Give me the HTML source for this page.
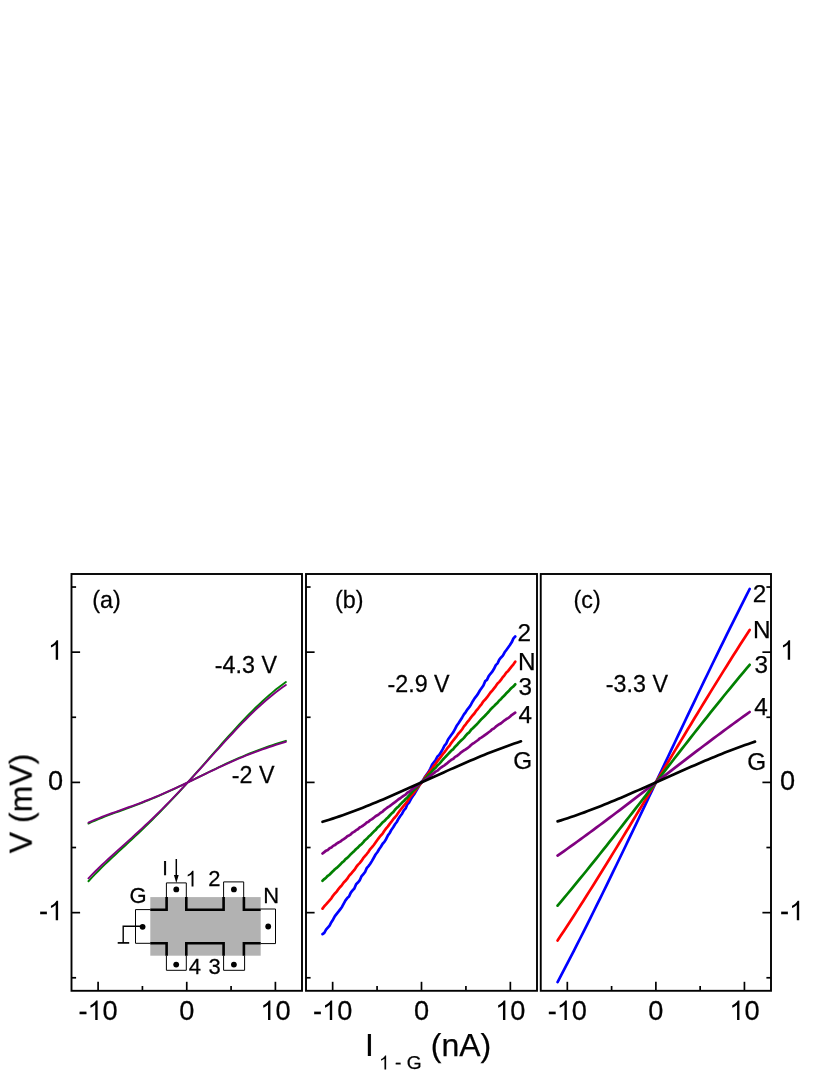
<!DOCTYPE html>
<html><head><meta charset="utf-8"><title>IV curves</title>
<style>html,body{margin:0;padding:0;background:#fff;}svg{display:block;}text{font-family:"Liberation Sans",sans-serif;fill:#000;}</style></head><body>
<svg width="830" height="1075" viewBox="0 0 830 1075">
<rect x="0" y="0" width="830" height="1075" fill="#ffffff"/>
<g style="opacity:0.999">
<polyline points="88.46,881.24 91.80,877.64 95.15,874.15 98.50,870.75 101.84,867.43 105.19,864.19 108.54,860.99 111.88,857.84 115.23,854.71 118.57,851.61 121.92,848.52 125.27,845.43 128.61,842.33 131.96,839.22 135.31,836.10 138.65,832.95 142.00,829.77 145.34,826.55 148.69,823.31 152.04,820.02 155.38,816.69 158.73,813.32 162.08,809.91 165.42,806.46 168.77,802.96 172.12,799.43 175.46,795.85 178.81,792.23 182.15,788.58 185.50,784.89 188.85,781.18 192.19,777.44 195.54,773.67 198.89,769.88 202.23,766.08 205.58,762.27 208.92,758.45 212.27,754.64 215.62,750.83 218.96,747.02 222.31,743.24 225.66,739.48 229.00,735.74 232.35,732.04 235.70,728.37 239.04,724.75 242.39,721.19 245.73,717.68 249.08,714.23 252.43,710.85 255.77,707.55 259.12,704.33 262.47,701.19 265.81,698.15 269.16,695.20 272.50,692.35 275.85,689.60 279.20,686.97 282.54,684.45 285.89,682.05" fill="none" stroke="#008000" stroke-width="1.90" stroke-linecap="round" stroke-linejoin="round"/>
<polyline points="88.46,823.55 91.80,822.00 95.15,820.53 98.50,819.12 101.84,817.78 105.19,816.47 108.54,815.20 111.88,813.95 115.23,812.72 118.57,811.50 121.92,810.28 125.27,809.06 128.61,807.83 131.96,806.59 135.31,805.33 138.65,804.05 142.00,802.75 145.34,801.43 148.69,800.08 152.04,798.70 155.38,797.29 158.73,795.85 162.08,794.39 165.42,792.90 168.77,791.39 172.12,789.85 175.46,788.29 178.81,786.71 182.15,785.11 185.50,783.49 188.85,781.87 192.19,780.23 195.54,778.58 198.89,776.93 202.23,775.28 205.58,773.63 208.92,771.99 212.27,770.36 215.62,768.74 218.96,767.13 222.31,765.54 225.66,763.97 229.00,762.42 232.35,760.90 235.70,759.41 239.04,757.94 242.39,756.51 245.73,755.11 249.08,753.75 252.43,752.42 255.77,751.12 259.12,749.86 262.47,748.63 265.81,747.43 269.16,746.27 272.50,745.13 275.85,744.02 279.20,742.94 282.54,741.87 285.89,740.82" fill="none" stroke="#008000" stroke-width="1.90" stroke-linecap="round" stroke-linejoin="round"/>
<polyline points="88.46,878.42 91.80,874.91 95.15,871.52 98.50,868.22 101.84,865.00 105.19,861.85 108.54,858.74 111.88,855.68 115.23,852.65 118.57,849.63 121.92,846.63 125.27,843.63 128.61,840.62 131.96,837.60 135.31,834.56 138.65,831.50 142.00,828.41 145.34,825.29 148.69,822.14 152.04,818.94 155.38,815.71 158.73,812.44 162.08,809.13 165.42,805.77 168.77,802.38 172.12,798.94 175.46,795.46 178.81,791.95 182.15,788.40 185.50,784.82 188.85,781.21 192.19,777.58 195.54,773.92 198.89,770.24 202.23,766.55 205.58,762.85 208.92,759.14 212.27,755.43 215.62,751.73 218.96,748.04 222.31,744.36 225.66,740.70 229.00,737.07 232.35,733.48 235.70,729.92 239.04,726.40 242.39,722.94 245.73,719.53 249.08,716.18 252.43,712.90 255.77,709.69 259.12,706.56 262.47,703.51 265.81,700.56 269.16,697.69 272.50,694.92 275.85,692.26 279.20,689.70 282.54,687.25 285.89,684.92" fill="none" stroke="#800080" stroke-width="1.90" stroke-linecap="round" stroke-linejoin="round"/>
<polyline points="88.46,822.62 91.80,821.10 95.15,819.67 98.50,818.29 101.84,816.97 105.19,815.70 108.54,814.45 111.88,813.24 115.23,812.03 118.57,810.84 121.92,809.65 125.27,808.46 128.61,807.26 131.96,806.04 135.31,804.81 138.65,803.56 142.00,802.29 145.34,801.00 148.69,799.67 152.04,798.33 155.38,796.95 158.73,795.55 162.08,794.12 165.42,792.66 168.77,791.18 172.12,789.68 175.46,788.16 178.81,786.61 182.15,785.05 185.50,783.47 188.85,781.88 192.19,780.28 195.54,778.67 198.89,777.06 202.23,775.44 205.58,773.83 208.92,772.23 212.27,770.63 215.62,769.04 218.96,767.47 222.31,765.92 225.66,764.39 229.00,762.87 232.35,761.39 235.70,759.93 239.04,758.50 242.39,757.10 245.73,755.73 249.08,754.40 252.43,753.09 255.77,751.83 259.12,750.59 262.47,749.39 265.81,748.23 269.16,747.09 272.50,745.98 275.85,744.89 279.20,743.83 282.54,742.79 285.89,741.76" fill="none" stroke="#800080" stroke-width="1.90" stroke-linecap="round" stroke-linejoin="round"/>
<polyline points="322.53,934.16 324.29,932.88 326.06,929.70 327.83,927.65 329.60,925.53 331.37,922.15 333.13,919.49 334.90,916.12 336.67,913.86 338.44,911.66 340.20,909.35 341.97,906.94 343.74,903.54 345.51,900.32 347.28,898.06 349.04,896.52 350.81,892.59 352.58,890.34 354.35,888.52 356.12,884.20 357.88,882.53 359.65,880.46 361.42,876.45 363.19,874.31 364.96,872.23 366.72,868.11 368.49,866.08 370.26,863.75 372.03,860.86 373.80,857.75 375.56,854.52 377.33,852.28 379.10,849.30 380.87,846.73 382.64,843.76 384.40,841.83 386.17,838.93 387.94,835.33 389.71,833.01 391.48,829.69 393.24,827.21 395.01,824.24 396.78,821.99 398.55,818.67 400.32,816.03 402.08,813.70 403.85,810.34 405.62,808.42 407.39,804.30 409.16,802.50 410.92,799.11 412.69,796.30 414.46,793.86 416.23,790.85 418.00,787.83 419.76,784.27 421.53,781.62 423.30,779.91 425.07,776.76 426.83,774.25 428.60,771.90 430.37,768.59 432.14,764.64 433.91,762.28 435.67,759.97 437.44,756.52 439.21,755.02 440.98,752.17 442.75,749.18 444.51,745.70 446.28,743.55 448.05,739.47 449.82,736.99 451.59,734.46 453.35,732.17 455.12,728.91 456.89,725.49 458.66,723.07 460.43,720.25 462.19,717.42 463.96,714.40 465.73,712.07 467.50,709.36 469.27,707.18 471.03,704.46 472.80,701.20 474.57,698.34 476.34,696.16 478.11,693.61 479.87,690.49 481.64,687.98 483.41,685.49 485.18,681.15 486.95,679.94 488.71,676.14 490.48,673.80 492.25,671.67 494.02,668.83 495.79,665.12 497.55,663.36 499.32,659.62 501.09,657.47 502.86,655.63 504.62,652.28 506.39,649.95 508.16,647.54 509.93,645.08 511.70,642.34 513.46,638.37 515.23,636.51" fill="none" stroke="#0000ff" stroke-width="2.70" stroke-linecap="round" stroke-linejoin="round"/>
<polyline points="322.53,908.59 324.29,906.19 326.06,904.41 327.83,902.33 329.60,900.35 331.37,898.29 333.13,895.57 334.90,893.49 336.67,891.63 338.44,889.09 340.20,886.98 341.97,885.05 343.74,882.57 345.51,880.81 347.28,878.66 349.04,875.88 350.81,874.02 352.58,871.98 354.35,869.89 356.12,867.17 357.88,864.86 359.65,863.12 361.42,860.90 363.19,858.15 364.96,856.07 366.72,854.01 368.49,851.83 370.26,849.09 372.03,847.17 373.80,844.99 375.56,842.54 377.33,839.98 379.10,837.61 380.87,835.49 382.64,833.57 384.40,830.74 386.17,828.41 387.94,826.36 389.71,823.85 391.48,821.60 393.24,819.20 395.01,817.24 396.78,815.05 398.55,812.54 400.32,810.02 402.08,807.84 403.85,805.70 405.62,803.62 407.39,801.33 409.16,798.48 410.92,795.99 412.69,794.24 414.46,791.98 416.23,789.32 418.00,787.21 419.76,784.95 421.53,782.44 423.30,780.29 425.07,777.36 426.83,775.21 428.60,772.88 430.37,770.44 432.14,768.66 433.91,765.72 435.67,763.84 437.44,761.09 439.21,758.97 440.98,756.68 442.75,754.19 444.51,752.11 446.28,749.79 448.05,747.32 449.82,745.30 451.59,742.58 453.35,740.29 455.12,738.09 456.89,735.80 458.66,733.37 460.43,731.57 462.19,729.20 463.96,726.40 465.73,724.29 467.50,721.90 469.27,719.77 471.03,717.36 472.80,715.24 474.57,713.26 476.34,710.61 478.11,708.52 479.87,706.22 481.64,704.07 483.41,701.33 485.18,699.56 486.95,697.45 488.71,694.97 490.48,692.51 492.25,690.55 494.02,688.35 495.79,686.09 497.55,683.51 499.32,681.88 501.09,679.67 502.86,677.10 504.62,675.02 506.39,672.45 508.16,670.93 509.93,668.64 511.70,666.35 513.46,664.27 515.23,661.72" fill="none" stroke="#ff0000" stroke-width="2.70" stroke-linecap="round" stroke-linejoin="round"/>
<polyline points="322.53,880.75 324.29,879.11 326.06,877.70 327.83,875.78 329.60,874.63 331.37,872.73 333.13,871.08 334.90,869.22 336.67,867.91 338.44,866.33 340.20,864.55 341.97,862.64 343.74,861.28 345.51,859.20 347.28,857.92 349.04,856.07 350.81,854.18 352.58,852.61 354.35,850.96 356.12,849.01 357.88,847.63 359.65,845.64 361.42,844.18 363.19,842.40 364.96,840.21 366.72,838.78 368.49,836.82 370.26,835.32 372.03,833.42 373.80,831.59 375.56,830.08 377.33,827.79 379.10,826.30 380.87,824.37 382.64,822.40 384.40,821.03 386.17,819.11 387.94,817.50 389.71,815.51 391.48,813.54 393.24,812.11 395.01,809.77 396.78,807.91 398.55,806.49 400.32,804.44 402.08,802.60 403.85,801.08 405.62,798.91 407.39,797.41 409.16,795.42 410.92,793.38 412.69,791.37 414.46,789.63 416.23,788.21 418.00,786.02 419.76,784.02 421.53,782.25 423.30,780.75 425.07,778.45 426.83,776.95 428.60,774.71 430.37,773.34 432.14,771.21 433.91,769.06 435.67,767.72 437.44,765.51 439.21,763.87 440.98,761.88 442.75,759.75 444.51,757.89 446.28,756.04 448.05,754.18 449.82,752.25 451.59,750.38 453.35,749.05 455.12,746.67 456.89,745.05 458.66,742.95 460.43,741.14 462.19,739.60 463.96,737.84 465.73,735.70 467.50,733.56 469.27,732.29 471.03,729.86 472.80,728.21 474.57,726.44 476.34,724.80 478.11,722.90 479.87,720.92 481.64,718.95 483.41,717.36 485.18,715.54 486.95,713.69 488.71,711.76 490.48,709.55 492.25,707.84 494.02,706.12 495.79,704.30 497.55,702.67 499.32,700.49 501.09,698.92 502.86,696.93 504.62,695.35 506.39,693.20 508.16,691.56 509.93,689.53 511.70,687.80 513.46,686.43 515.23,684.27" fill="none" stroke="#008000" stroke-width="2.70" stroke-linecap="round" stroke-linejoin="round"/>
<polyline points="322.53,853.49 324.29,852.10 326.06,850.64 327.83,849.92 329.60,848.29 331.37,847.57 333.13,845.89 334.90,845.10 336.67,843.59 338.44,842.50 340.20,841.65 341.97,840.16 343.74,839.05 345.51,837.88 347.28,836.27 349.04,835.48 350.81,834.29 352.58,832.60 354.35,831.59 356.12,830.19 357.88,829.22 359.65,827.54 361.42,826.58 363.19,825.49 364.96,824.19 366.72,822.55 368.49,821.71 370.26,820.09 372.03,819.15 373.80,817.69 375.56,816.21 377.33,815.27 379.10,814.03 380.87,812.68 382.64,811.54 384.40,809.83 386.17,808.52 387.94,807.17 389.71,806.10 391.48,804.72 393.24,803.39 395.01,802.14 396.78,800.72 398.55,799.25 400.32,798.22 402.08,796.79 403.85,795.57 405.62,794.55 407.39,792.78 409.16,791.73 410.92,790.41 412.69,788.87 414.46,787.66 416.23,786.64 418.00,784.94 419.76,783.83 421.53,782.58 423.30,780.96 425.07,780.01 426.83,778.46 428.60,777.06 430.37,775.86 432.14,774.35 433.91,773.19 435.67,771.60 437.44,770.66 439.21,769.09 440.98,767.58 442.75,766.37 444.51,765.31 446.28,763.93 448.05,762.40 449.82,760.99 451.59,759.67 453.35,758.71 455.12,756.85 456.89,755.99 458.66,754.64 460.43,752.94 462.19,751.69 463.96,750.49 465.73,749.31 467.50,748.07 469.27,746.78 471.03,745.03 472.80,743.66 474.57,742.51 476.34,741.24 478.11,739.98 479.87,738.34 481.64,737.35 483.41,736.21 485.18,734.90 486.95,733.61 488.71,732.29 490.48,731.01 492.25,729.16 494.02,728.39 495.79,726.71 497.55,725.44 499.32,724.23 501.09,723.24 502.86,721.75 504.62,720.32 506.39,719.05 508.16,718.09 509.93,716.77 511.70,715.09 513.46,713.89 515.23,712.70" fill="none" stroke="#800080" stroke-width="2.70" stroke-linecap="round" stroke-linejoin="round"/>
<polyline points="322.53,821.79 325.89,820.77 329.25,819.72 332.62,818.65 335.98,817.54 339.35,816.40 342.71,815.23 346.07,814.03 349.44,812.81 352.80,811.57 356.17,810.30 359.53,809.00 362.89,807.69 366.26,806.35 369.62,805.00 372.99,803.62 376.35,802.23 379.72,800.82 383.08,799.40 386.44,797.96 389.81,796.51 393.17,795.05 396.54,793.57 399.90,792.09 403.26,790.60 406.63,789.10 409.99,787.59 413.36,786.08 416.72,784.56 420.08,783.04 423.45,781.52 426.81,779.99 430.18,778.47 433.54,776.95 436.91,775.43 440.27,773.91 443.63,772.40 447.00,770.89 450.36,769.39 453.73,767.90 457.09,766.41 460.45,764.94 463.82,763.47 467.18,762.02 470.55,760.58 473.91,759.16 477.27,757.75 480.64,756.35 484.00,754.98 487.37,753.62 490.73,752.28 494.09,750.97 497.46,749.67 500.82,748.40 504.19,747.15 507.55,745.92 510.92,744.73 514.28,743.56 517.64,742.41 521.01,741.30" fill="none" stroke="#000000" stroke-width="2.70" stroke-linecap="round" stroke-linejoin="round"/>
<polyline points="557.58,982.10 560.83,975.92 564.09,969.70 567.34,963.44 570.60,957.14 573.85,950.80 577.11,944.42 580.37,938.01 583.62,931.56 586.88,925.08 590.13,918.56 593.39,912.02 596.64,905.45 599.90,898.85 603.15,892.22 606.41,885.57 609.67,878.89 612.92,872.19 616.18,865.48 619.43,858.74 622.69,851.98 625.94,845.21 629.20,838.42 632.46,831.62 635.71,824.80 638.97,817.98 642.22,811.14 645.48,804.30 648.73,797.45 651.99,790.59 655.24,783.73 658.50,776.86 661.76,770.00 665.01,763.13 668.27,756.27 671.52,749.40 674.78,742.54 678.03,735.69 681.29,728.84 684.55,722.00 687.80,715.17 691.06,708.36 694.31,701.55 697.57,694.75 700.82,687.98 704.08,681.21 707.33,674.47 710.59,667.74 713.85,661.03 717.10,654.35 720.36,647.69 723.61,641.05 726.87,634.44 730.12,627.86 733.38,621.30 736.64,614.78 739.89,608.28 743.15,601.82 746.40,595.39 749.66,589.00" fill="none" stroke="#0000ff" stroke-width="2.70" stroke-linecap="round" stroke-linejoin="round"/>
<polyline points="557.58,940.50 560.83,935.60 564.09,930.66 567.34,925.70 570.60,920.70 573.85,915.67 577.11,910.62 580.37,905.53 583.62,900.42 586.88,895.29 590.13,890.12 593.39,884.94 596.64,879.73 599.90,874.51 603.15,869.26 606.41,863.99 609.67,858.71 612.92,853.41 616.18,848.09 619.43,842.76 622.69,837.41 625.94,832.06 629.20,826.69 632.46,821.31 635.71,815.92 638.97,810.52 642.22,805.12 645.48,799.71 648.73,794.29 651.99,788.87 655.24,783.45 658.50,778.03 661.76,772.60 665.01,767.18 668.27,761.76 671.52,756.34 674.78,750.92 678.03,745.51 681.29,740.11 684.55,734.71 687.80,729.32 691.06,723.94 694.31,718.57 697.57,713.21 700.82,707.86 704.08,702.53 707.33,697.21 710.59,691.91 713.85,686.63 717.10,681.36 720.36,676.11 723.61,670.88 726.87,665.67 730.12,660.49 733.38,655.32 736.64,650.19 739.89,645.07 743.15,639.99 746.40,634.93 749.66,629.90" fill="none" stroke="#ff0000" stroke-width="2.70" stroke-linecap="round" stroke-linejoin="round"/>
<polyline points="557.58,905.60 560.83,901.76 564.09,897.89 567.34,894.00 570.60,890.09 573.85,886.16 577.11,882.21 580.37,878.23 583.62,874.24 586.88,870.23 590.13,866.20 593.39,862.15 596.64,858.09 599.90,854.01 603.15,849.92 606.41,845.81 609.67,841.70 612.92,837.57 616.18,833.43 619.43,829.28 622.69,825.12 625.94,820.95 629.20,816.78 632.46,812.60 635.71,808.41 638.97,804.22 642.22,800.02 645.48,795.82 648.73,791.62 651.99,787.42 655.24,783.21 658.50,779.01 661.76,774.81 665.01,770.61 668.27,766.41 671.52,762.21 674.78,758.02 678.03,753.84 681.29,749.66 684.55,745.49 687.80,741.32 691.06,737.17 694.31,733.02 697.57,728.89 700.82,724.76 704.08,720.65 707.33,716.55 710.59,712.46 713.85,708.39 717.10,704.33 720.36,700.29 723.61,696.27 726.87,692.27 730.12,688.28 733.38,684.31 736.64,680.37 739.89,676.44 743.15,672.54 746.40,668.66 749.66,664.80" fill="none" stroke="#008000" stroke-width="2.70" stroke-linecap="round" stroke-linejoin="round"/>
<polyline points="557.58,855.60 560.83,853.33 564.09,851.04 567.34,848.74 570.60,846.42 573.85,844.09 577.11,841.75 580.37,839.39 583.62,837.02 586.88,834.64 590.13,832.25 593.39,829.85 596.64,827.44 599.90,825.02 603.15,822.59 606.41,820.15 609.67,817.70 612.92,815.25 616.18,812.79 619.43,810.32 622.69,807.85 625.94,805.37 629.20,802.88 632.46,800.39 635.71,797.90 638.97,795.40 642.22,792.90 645.48,790.40 648.73,787.90 651.99,785.39 655.24,782.89 658.50,780.38 661.76,777.87 665.01,775.36 668.27,772.86 671.52,770.35 674.78,767.85 678.03,765.35 681.29,762.85 684.55,760.36 687.80,757.87 691.06,755.39 694.31,752.91 697.57,750.43 700.82,747.96 704.08,745.50 707.33,743.05 710.59,740.60 713.85,738.16 717.10,735.73 720.36,733.31 723.61,730.90 726.87,728.49 730.12,726.10 733.38,723.72 736.64,721.35 739.89,718.99 743.15,716.65 746.40,714.32 749.66,712.00" fill="none" stroke="#800080" stroke-width="2.70" stroke-linecap="round" stroke-linejoin="round"/>
<polyline points="557.58,821.37 560.92,820.34 564.27,819.29 567.62,818.20 570.96,817.08 574.31,815.94 577.66,814.77 581.01,813.57 584.35,812.36 587.70,811.11 591.05,809.85 594.39,808.56 597.74,807.26 601.09,805.93 604.44,804.59 607.78,803.23 611.13,801.85 614.48,800.46 617.83,799.06 621.17,797.64 624.52,796.21 627.87,794.77 631.21,793.31 634.56,791.85 637.91,790.38 641.26,788.91 644.60,787.42 647.95,785.94 651.30,784.45 654.64,782.95 657.99,781.45 661.34,779.96 664.69,778.46 668.03,776.96 671.38,775.46 674.73,773.97 678.07,772.48 681.42,771.00 684.77,769.52 688.12,768.05 691.46,766.59 694.81,765.14 698.16,763.69 701.50,762.26 704.85,760.84 708.20,759.43 711.55,758.04 714.89,756.66 718.24,755.30 721.59,753.95 724.93,752.62 728.28,751.32 731.63,750.03 734.98,748.76 738.32,747.51 741.67,746.29 745.02,745.09 748.37,743.92 751.71,742.77 755.06,741.65" fill="none" stroke="#000000" stroke-width="2.70" stroke-linecap="round" stroke-linejoin="round"/>
<rect x="150.3" y="897.1" width="110.4" height="58.6" fill="#b2b2b2"/>
<polyline points="166.40,897.10 166.40,882.90 186.30,882.90 186.30,897.10" fill="none" stroke="#000" stroke-width="1.00" />
<polyline points="223.60,897.10 223.60,881.90 243.70,881.90 243.70,897.10" fill="none" stroke="#000" stroke-width="1.00" />
<polyline points="166.40,955.70 166.40,970.30 186.30,970.30 186.30,955.70" fill="none" stroke="#000" stroke-width="1.00" />
<polyline points="223.60,955.70 223.60,970.30 244.60,970.30 244.60,955.70" fill="none" stroke="#000" stroke-width="1.00" />
<polyline points="150.30,909.60 135.50,909.60 135.50,943.30 150.30,943.30" fill="none" stroke="#000" stroke-width="1.00" />
<polyline points="260.70,909.00 275.50,909.00 275.50,943.60 260.70,943.60" fill="none" stroke="#000" stroke-width="1.00" />
<polyline points="150.30,909.70 166.60,909.70 166.60,897.10" fill="none" stroke="#000" stroke-width="2.60" />
<polyline points="186.30,897.10 186.30,909.70 223.60,909.70 223.60,897.10" fill="none" stroke="#000" stroke-width="2.60" />
<polyline points="243.90,897.10 243.90,909.70 260.70,909.70" fill="none" stroke="#000" stroke-width="2.60" />
<polyline points="150.30,943.20 166.60,943.20 166.60,955.70" fill="none" stroke="#000" stroke-width="2.60" />
<polyline points="186.30,955.70 186.30,943.20 223.60,943.20 223.60,955.70" fill="none" stroke="#000" stroke-width="2.60" />
<polyline points="243.90,955.70 243.90,943.20 260.70,943.20" fill="none" stroke="#000" stroke-width="2.60" />
<circle cx="176.3" cy="889.4" r="2.9" fill="#000"/>
<circle cx="233.9" cy="889.4" r="2.9" fill="#000"/>
<circle cx="142.6" cy="926.8" r="2.9" fill="#000"/>
<circle cx="268.2" cy="926.5" r="2.9" fill="#000"/>
<circle cx="176.2" cy="964.6" r="2.9" fill="#000"/>
<circle cx="233.9" cy="964.6" r="2.9" fill="#000"/>
<polyline points="142.60,926.30 123.20,926.30 123.20,942.90" fill="none" stroke="#000" stroke-width="1.40" />
<polyline points="117.70,942.90 129.20,942.90" fill="none" stroke="#000" stroke-width="1.70" />
<polyline points="176.30,859.00 176.30,877.00" fill="none" stroke="#000" stroke-width="1.50" />
<polygon points="173.9,874.9 178.7,874.9 176.3,883.0" fill="#000"/>
<rect x="71.50" y="574.00" width="230.50" height="416.80" fill="none" stroke="#000" stroke-width="1.90"/>
<rect x="306.00" y="574.00" width="231.00" height="416.80" fill="none" stroke="#000" stroke-width="1.90"/>
<rect x="540.75" y="574.00" width="230.25" height="416.80" fill="none" stroke="#000" stroke-width="1.90"/>
<line x1="98.10" y1="990.80" x2="98.10" y2="981.80" stroke="#000" stroke-width="1.70"/>
<line x1="186.75" y1="990.80" x2="186.75" y2="981.80" stroke="#000" stroke-width="1.70"/>
<line x1="275.40" y1="990.80" x2="275.40" y2="981.80" stroke="#000" stroke-width="1.70"/>
<line x1="142.42" y1="990.80" x2="142.42" y2="986.00" stroke="#000" stroke-width="1.70"/>
<line x1="231.08" y1="990.80" x2="231.08" y2="986.00" stroke="#000" stroke-width="1.70"/>
<line x1="332.65" y1="990.80" x2="332.65" y2="981.80" stroke="#000" stroke-width="1.70"/>
<line x1="421.50" y1="990.80" x2="421.50" y2="981.80" stroke="#000" stroke-width="1.70"/>
<line x1="510.35" y1="990.80" x2="510.35" y2="981.80" stroke="#000" stroke-width="1.70"/>
<line x1="377.08" y1="990.80" x2="377.08" y2="986.00" stroke="#000" stroke-width="1.70"/>
<line x1="465.92" y1="990.80" x2="465.92" y2="986.00" stroke="#000" stroke-width="1.70"/>
<line x1="567.32" y1="990.80" x2="567.32" y2="981.80" stroke="#000" stroke-width="1.70"/>
<line x1="655.88" y1="990.80" x2="655.88" y2="981.80" stroke="#000" stroke-width="1.70"/>
<line x1="744.43" y1="990.80" x2="744.43" y2="981.80" stroke="#000" stroke-width="1.70"/>
<line x1="611.60" y1="990.80" x2="611.60" y2="986.00" stroke="#000" stroke-width="1.70"/>
<line x1="700.15" y1="990.80" x2="700.15" y2="986.00" stroke="#000" stroke-width="1.70"/>
<line x1="71.50" y1="912.65" x2="80.10" y2="912.65" stroke="#000" stroke-width="1.70"/>
<line x1="71.50" y1="782.40" x2="80.10" y2="782.40" stroke="#000" stroke-width="1.70"/>
<line x1="71.50" y1="652.15" x2="80.10" y2="652.15" stroke="#000" stroke-width="1.70"/>
<line x1="71.50" y1="977.77" x2="76.10" y2="977.77" stroke="#000" stroke-width="1.70"/>
<line x1="71.50" y1="847.52" x2="76.10" y2="847.52" stroke="#000" stroke-width="1.70"/>
<line x1="71.50" y1="717.27" x2="76.10" y2="717.27" stroke="#000" stroke-width="1.70"/>
<line x1="71.50" y1="587.03" x2="76.10" y2="587.03" stroke="#000" stroke-width="1.70"/>
<line x1="306.00" y1="912.65" x2="314.60" y2="912.65" stroke="#000" stroke-width="1.70"/>
<line x1="306.00" y1="782.40" x2="314.60" y2="782.40" stroke="#000" stroke-width="1.70"/>
<line x1="306.00" y1="652.15" x2="314.60" y2="652.15" stroke="#000" stroke-width="1.70"/>
<line x1="306.00" y1="977.77" x2="310.60" y2="977.77" stroke="#000" stroke-width="1.70"/>
<line x1="306.00" y1="847.52" x2="310.60" y2="847.52" stroke="#000" stroke-width="1.70"/>
<line x1="306.00" y1="717.27" x2="310.60" y2="717.27" stroke="#000" stroke-width="1.70"/>
<line x1="306.00" y1="587.03" x2="310.60" y2="587.03" stroke="#000" stroke-width="1.70"/>
<line x1="771.00" y1="912.65" x2="762.40" y2="912.65" stroke="#000" stroke-width="1.70"/>
<line x1="771.00" y1="782.40" x2="762.40" y2="782.40" stroke="#000" stroke-width="1.70"/>
<line x1="771.00" y1="652.15" x2="762.40" y2="652.15" stroke="#000" stroke-width="1.70"/>
<line x1="771.00" y1="977.77" x2="766.40" y2="977.77" stroke="#000" stroke-width="1.70"/>
<line x1="771.00" y1="847.52" x2="766.40" y2="847.52" stroke="#000" stroke-width="1.70"/>
<line x1="771.00" y1="717.27" x2="766.40" y2="717.27" stroke="#000" stroke-width="1.70"/>
<line x1="771.00" y1="587.03" x2="766.40" y2="587.03" stroke="#000" stroke-width="1.70"/>
<g transform="translate(78.44,1020.00)">
<text x="0.00" y="0" transform="scale(1,1.035)" font-size="27.20" stroke="#000" stroke-width="0.25">-</text>
<path transform="translate(9.06,0) scale(0.01328,-0.01328)" d="M763 0L583 0L583 1147Q518 1085 412.5 1023Q307 961 223 930L223 1104Q374 1175 487 1276Q600 1377 647 1472L763 1472Z" fill="#000"/>
<text x="24.19" y="0" transform="scale(1,1.035)" font-size="27.20" stroke="#000" stroke-width="0.25">0</text>
</g>
<g transform="translate(179.19,1020.00)">
<text x="0.00" y="0" transform="scale(1,1.035)" font-size="27.20" stroke="#000" stroke-width="0.25">0</text>
</g>
<g transform="translate(260.28,1020.00)">
<path transform="translate(0.00,0) scale(0.01328,-0.01328)" d="M763 0L583 0L583 1147Q518 1085 412.5 1023Q307 961 223 930L223 1104Q374 1175 487 1276Q600 1377 647 1472L763 1472Z" fill="#000"/>
<text x="15.13" y="0" transform="scale(1,1.035)" font-size="27.20" stroke="#000" stroke-width="0.25">0</text>
</g>
<g transform="translate(313.00,1020.00)">
<text x="0.00" y="0" transform="scale(1,1.035)" font-size="27.20" stroke="#000" stroke-width="0.25">-</text>
<path transform="translate(9.06,0) scale(0.01328,-0.01328)" d="M763 0L583 0L583 1147Q518 1085 412.5 1023Q307 961 223 930L223 1104Q374 1175 487 1276Q600 1377 647 1472L763 1472Z" fill="#000"/>
<text x="24.19" y="0" transform="scale(1,1.035)" font-size="27.20" stroke="#000" stroke-width="0.25">0</text>
</g>
<g transform="translate(413.94,1020.00)">
<text x="0.00" y="0" transform="scale(1,1.035)" font-size="27.20" stroke="#000" stroke-width="0.25">0</text>
</g>
<g transform="translate(495.22,1020.00)">
<path transform="translate(0.00,0) scale(0.01328,-0.01328)" d="M763 0L583 0L583 1147Q518 1085 412.5 1023Q307 961 223 930L223 1104Q374 1175 487 1276Q600 1377 647 1472L763 1472Z" fill="#000"/>
<text x="15.13" y="0" transform="scale(1,1.035)" font-size="27.20" stroke="#000" stroke-width="0.25">0</text>
</g>
<g transform="translate(547.66,1020.00)">
<text x="0.00" y="0" transform="scale(1,1.035)" font-size="27.20" stroke="#000" stroke-width="0.25">-</text>
<path transform="translate(9.06,0) scale(0.01328,-0.01328)" d="M763 0L583 0L583 1147Q518 1085 412.5 1023Q307 961 223 930L223 1104Q374 1175 487 1276Q600 1377 647 1472L763 1472Z" fill="#000"/>
<text x="24.19" y="0" transform="scale(1,1.035)" font-size="27.20" stroke="#000" stroke-width="0.25">0</text>
</g>
<g transform="translate(648.31,1020.00)">
<text x="0.00" y="0" transform="scale(1,1.035)" font-size="27.20" stroke="#000" stroke-width="0.25">0</text>
</g>
<g transform="translate(729.31,1020.00)">
<path transform="translate(0.00,0) scale(0.01328,-0.01328)" d="M763 0L583 0L583 1147Q518 1085 412.5 1023Q307 961 223 930L223 1104Q374 1175 487 1276Q600 1377 647 1472L763 1472Z" fill="#000"/>
<text x="15.13" y="0" transform="scale(1,1.035)" font-size="27.20" stroke="#000" stroke-width="0.25">0</text>
</g>
<g transform="translate(47.97,659.85)">
<path transform="translate(0.00,0) scale(0.01328,-0.01328)" d="M763 0L583 0L583 1147Q518 1085 412.5 1023Q307 961 223 930L223 1104Q374 1175 487 1276Q600 1377 647 1472L763 1472Z" fill="#000"/>
</g>
<g transform="translate(780.00,659.85)">
<path transform="translate(0.00,0) scale(0.01328,-0.01328)" d="M763 0L583 0L583 1147Q518 1085 412.5 1023Q307 961 223 930L223 1104Q374 1175 487 1276Q600 1377 647 1472L763 1472Z" fill="#000"/>
</g>
<g transform="translate(47.97,790.10)">
<text x="0.00" y="0" transform="scale(1,1.035)" font-size="27.20" stroke="#000" stroke-width="0.25">0</text>
</g>
<g transform="translate(780.00,790.10)">
<text x="0.00" y="0" transform="scale(1,1.035)" font-size="27.20" stroke="#000" stroke-width="0.25">0</text>
</g>
<g transform="translate(38.91,920.35)">
<text x="0.00" y="0" transform="scale(1,1.035)" font-size="27.20" stroke="#000" stroke-width="0.25">-</text>
<path transform="translate(9.06,0) scale(0.01328,-0.01328)" d="M763 0L583 0L583 1147Q518 1085 412.5 1023Q307 961 223 930L223 1104Q374 1175 487 1276Q600 1377 647 1472L763 1472Z" fill="#000"/>
</g>
<g transform="translate(780.00,920.35)">
<text x="0.00" y="0" transform="scale(1,1.035)" font-size="27.20" stroke="#000" stroke-width="0.25">-</text>
<path transform="translate(9.06,0) scale(0.01328,-0.01328)" d="M763 0L583 0L583 1147Q518 1085 412.5 1023Q307 961 223 930L223 1104Q374 1175 487 1276Q600 1377 647 1472L763 1472Z" fill="#000"/>
</g>
<g transform="translate(31.60,853.30) rotate(-90)">
<text x="0.00" y="0" transform="scale(1,1.000)" font-size="32.00" stroke="#000" stroke-width="0.25">V (mV)</text>
</g>
<g transform="translate(365.00,1056.20)">
<text x="0.00" y="0" transform="scale(1,1.000)" font-size="32.00" stroke="#000" stroke-width="0.20">I</text>
</g>
<g transform="translate(379.00,1069.40)">
<path transform="translate(0.00,0) scale(0.00937,-0.00937)" d="M763 0L583 0L583 1147Q518 1085 412.5 1023Q307 961 223 930L223 1104Q374 1175 487 1276Q600 1377 647 1472L763 1472Z" fill="#000"/>
<text x="16.01" y="0" transform="scale(1,1.000)" font-size="19.20" stroke="#000" stroke-width="0.25">- G</text>
</g>
<g transform="translate(430.80,1056.20)">
<text x="0.00" y="0" transform="scale(1,1.000)" font-size="32.00" stroke="#000" stroke-width="0.25">(nA)</text>
</g>
<g transform="translate(92.30,608.00)">
<text x="0.00" y="0" transform="scale(1,1.030)" font-size="23.30" stroke="#000" stroke-width="0.25">(a)</text>
</g>
<g transform="translate(335.00,608.00)">
<text x="0.00" y="0" transform="scale(1,1.030)" font-size="23.30" stroke="#000" stroke-width="0.25">(b)</text>
</g>
<g transform="translate(573.60,608.00)">
<text x="0.00" y="0" transform="scale(1,1.030)" font-size="23.30" stroke="#000" stroke-width="0.25">(c)</text>
</g>
<g transform="translate(214.80,672.60)">
<text x="0.00" y="0" transform="scale(1,1.030)" font-size="23.30" stroke="#000" stroke-width="0.25">-4.3 V</text>
</g>
<g transform="translate(231.80,782.50)">
<text x="0.00" y="0" transform="scale(1,1.030)" font-size="23.30" stroke="#000" stroke-width="0.25">-2 V</text>
</g>
<g transform="translate(387.50,692.00)">
<text x="0.00" y="0" transform="scale(1,1.030)" font-size="23.30" stroke="#000" stroke-width="0.25">-2.9 V</text>
</g>
<g transform="translate(605.80,691.90)">
<text x="0.00" y="0" transform="scale(1,1.030)" font-size="23.30" stroke="#000" stroke-width="0.25">-3.3 V</text>
</g>
<g transform="translate(517.60,641.40)">
<text x="0.00" y="0" transform="scale(1,1.000)" font-size="24.30" stroke="#000" stroke-width="0.25">2</text>
</g>
<g transform="translate(518.00,670.40)">
<text x="0.00" y="0" transform="scale(1,1.000)" font-size="24.30" stroke="#000" stroke-width="0.25">N</text>
</g>
<g transform="translate(518.50,694.90)">
<text x="0.00" y="0" transform="scale(1,1.000)" font-size="24.30" stroke="#000" stroke-width="0.25">3</text>
</g>
<g transform="translate(518.50,723.10)">
<text x="0.00" y="0" transform="scale(1,1.000)" font-size="24.30" stroke="#000" stroke-width="0.25">4</text>
</g>
<g transform="translate(513.30,768.90)">
<text x="0.00" y="0" transform="scale(1,1.000)" font-size="24.30" stroke="#000" stroke-width="0.25">G</text>
</g>
<g transform="translate(752.80,602.20)">
<text x="0.00" y="0" transform="scale(1,1.000)" font-size="24.30" stroke="#000" stroke-width="0.25">2</text>
</g>
<g transform="translate(753.00,637.80)">
<text x="0.00" y="0" transform="scale(1,1.000)" font-size="24.30" stroke="#000" stroke-width="0.25">N</text>
</g>
<g transform="translate(754.60,673.20)">
<text x="0.00" y="0" transform="scale(1,1.000)" font-size="24.30" stroke="#000" stroke-width="0.25">3</text>
</g>
<g transform="translate(754.30,715.40)">
<text x="0.00" y="0" transform="scale(1,1.000)" font-size="24.30" stroke="#000" stroke-width="0.25">4</text>
</g>
<g transform="translate(747.30,770.40)">
<text x="0.00" y="0" transform="scale(1,1.000)" font-size="24.30" stroke="#000" stroke-width="0.25">G</text>
</g>
<g transform="translate(162.20,874.60)">
<text x="0.00" y="0" transform="scale(1,1.000)" font-size="20.00" stroke="#000" stroke-width="0.25">I</text>
</g>
<g transform="translate(185.30,886.60)">
<path transform="translate(0.00,0) scale(0.01074,-0.01074)" d="M763 0L583 0L583 1147Q518 1085 412.5 1023Q307 961 223 930L223 1104Q374 1175 487 1276Q600 1377 647 1472L763 1472Z" fill="#000"/>
</g>
<g transform="translate(208.20,886.40)">
<text x="0.00" y="0" transform="scale(1,1.035)" font-size="22.00" stroke="#000" stroke-width="0.25">2</text>
</g>
<g transform="translate(129.60,902.60)">
<text x="0.00" y="0" transform="scale(1,1.035)" font-size="22.00" stroke="#000" stroke-width="0.25">G</text>
</g>
<g transform="translate(263.20,903.40)">
<text x="0.00" y="0" transform="scale(1,1.035)" font-size="22.00" stroke="#000" stroke-width="0.25">N</text>
</g>
<g transform="translate(188.70,973.90)">
<text x="0.00" y="0" transform="scale(1,1.035)" font-size="22.00" stroke="#000" stroke-width="0.25">4</text>
</g>
<g transform="translate(208.50,973.90)">
<text x="0.00" y="0" transform="scale(1,1.035)" font-size="22.00" stroke="#000" stroke-width="0.25">3</text>
</g>
</g>
</svg></body></html>
